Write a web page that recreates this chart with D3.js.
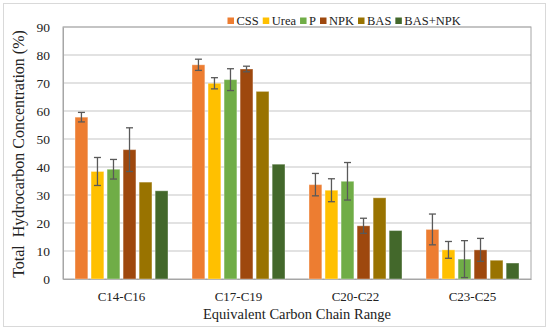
<!DOCTYPE html>
<html><head><meta charset="utf-8">
<script src="https://cdn.jsdelivr.net/npm/d3@7"></script>
<style>body{margin:0;background:#fff}svg{display:block}</style>
</head><body>
<svg id="c" width="550" height="330"></svg>
<script>
const categories = ["C14-C16", "C17-C19", "C20-C22", "C23-C25"];
const seriesNames = ["CSS", "Urea", "P", "NPK", "BAS", "BAS+NPK"];
const colors = ["#ED7D31", "#FFC000", "#70AD47", "#9E480E", "#997300", "#43682B"];
// values per series, in category order
const CSS    = [57.8, 76.5, 33.7, 17.7];
const Urea   = [38.4, 69.9, 31.7, 10.4];
const P      = [39.2, 71.2, 34.9, 7.1];
const NPK    = [46.2, 75.0, 19.0, 10.4];
const BAS    = [34.6, 67.0, 29.0, 6.7];
const BASNPK = [31.5, 41.0, 17.3, 5.7];
// error half-widths (null = none)
const CSSerr  = [1.7, 2.0, 4.0, 5.5];
const Ureaerr = [5.0, 2.0, 4.1, 3.0];
const Perr    = [3.5, 3.9, 6.7, 6.6];
const NPKerr  = [7.8, 1.0, 2.7, 4.1];
const BASerr  = [null, null, null, null];
const BASNPKerr = [null, null, null, null];
const yTicks = [0, 10, 20, 30, 40, 50, 60, 70, 80, 90];

const values = [CSS, Urea, P, NPK, BAS, BASNPK];
const errs = [CSSerr, Ureaerr, Perr, NPKerr, BASerr, BASNPKerr];

const svg = d3.select("#c");
const font = "'Liberation Serif', 'DejaVu Serif', serif";
const m = {l: 63, r: 531, t: 27, b: 279};

svg.append("rect").attr("x", 3.5).attr("y", 3.5).attr("width", 542).attr("height", 323)
  .attr("fill", "#fff").attr("stroke", "#d9d9d9").attr("stroke-width", 1);

const y = d3.scaleLinear().domain([0, 90]).range([m.b, m.t]);
const x0 = d3.scaleBand().domain(categories).range([m.l, m.r]).paddingInner(0).paddingOuter(0);
const x1 = d3.scaleBand().domain(seriesNames).range([0, x0.bandwidth()]).paddingInner(0.2).paddingOuter(0.75);

// gridlines
svg.append("g").selectAll("line").data(yTicks.filter(d => d > 0)).join("line")
  .attr("x1", m.l).attr("x2", m.r).attr("y1", d => y(d)).attr("y2", d => y(d))
  .attr("stroke", "#d9d9d9").attr("stroke-width", 1.5);

// plot box
svg.append("rect").attr("x", m.l).attr("y", m.t).attr("width", m.r - m.l).attr("height", m.b - m.t)
  .attr("fill", "none").attr("stroke", "#a6a6a6").attr("stroke-width", 1);

// y axis
const yAxis = d3.axisLeft(y).tickValues(yTicks).tickSize(0).tickPadding(13);
const gy = svg.append("g").attr("transform", `translate(${m.l},0)`).call(yAxis);
gy.select(".domain").attr("stroke", "#a6a6a6");
gy.selectAll("text").attr("font-family", font).attr("font-size", 13.5).attr("fill", "#222");

// x axis
const xAxis = d3.axisBottom(x0).tickSize(0).tickPadding(12.5);
const gx = svg.append("g").attr("transform", `translate(0,${m.b})`).call(xAxis);
gx.select(".domain").attr("stroke", "#a6a6a6");
gx.selectAll("text").attr("font-family", font).attr("font-size", 13).attr("fill", "#222");

// bars
seriesNames.forEach((s, si) => {
  const g = svg.append("g");
  g.selectAll("rect").data(categories).join("rect")
    .attr("x", c => x0(c) + x1(s))
    .attr("width", x1.bandwidth())
    .attr("y", (c, ci) => y(values[si][ci]))
    .attr("height", (c, ci) => y(0) - y(values[si][ci]))
    .attr("fill", colors[si])
    .attr("stroke", "#ffffff").attr("stroke-opacity", 0.35).attr("stroke-width", 1);
});

// error bars
seriesNames.forEach((s, si) => {
  categories.forEach((c, ci) => {
    const e = errs[si][ci];
    if (e == null) return;
    const cx = x0(c) + x1(s) + x1.bandwidth() / 2;
    const v = values[si][ci];
    const g = svg.append("g").attr("stroke", "#595959").attr("stroke-width", 1.3);
    g.append("line").attr("x1", cx).attr("x2", cx).attr("y1", y(v - e)).attr("y2", y(v + e));
    [v - e, v + e].forEach(t => g.append("line").attr("x1", cx - 3.5).attr("x2", cx + 3.5).attr("y1", y(t)).attr("y2", y(t)));
  });
});

// legend
const legend = svg.append("g").attr("transform", "translate(227.5,0)");
let lx = 0;
seriesNames.forEach((s, i) => {
  legend.append("rect").attr("x", lx).attr("y", 17.5).attr("width", 6.5).attr("height", 6.5).attr("fill", colors[i]);
  const t = legend.append("text").attr("x", lx + 9).attr("y", 24.5).text(s)
    .attr("font-family", font).attr("font-size", 12.5).attr("fill", "#222");
  lx += 9 + t.node().getComputedTextLength() + 4;
});

// axis titles
svg.append("text").attr("x", (m.l + m.r) / 2).attr("y", 318.5).attr("text-anchor", "middle")
  .attr("font-family", font).attr("font-size", 14.5).attr("fill", "#222").text("Equivalent Carbon Chain Range");
svg.append("text").attr("transform", `translate(24,${(m.t + m.b) / 2 + 1}) rotate(-90)`).attr("text-anchor", "middle")
  .attr("font-family", font).attr("font-size", 16).attr("fill", "#222").attr("xml:space", "preserve")
  .style("white-space", "pre").text("Total  Hydrocarbon Concentration (%)");
</script>
</body></html>
